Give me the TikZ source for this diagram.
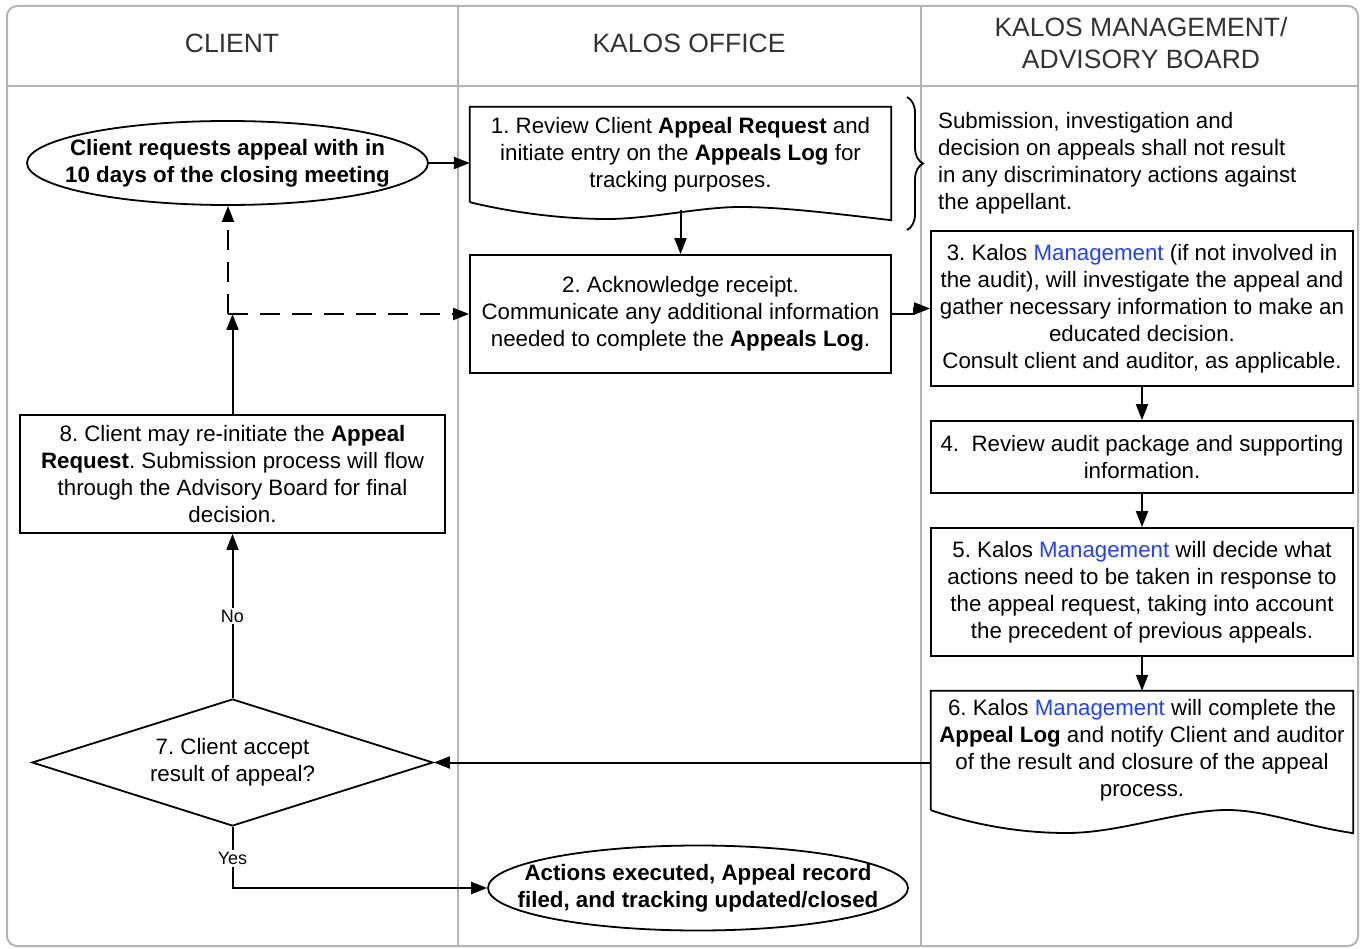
\documentclass[tikz,border=0pt]{standalone}
\usepackage{fontspec}
\setmainfont{Liberation Sans}
\usepackage{tikz}
\usetikzlibrary{arrows.meta,shapes.geometric,decorations.pathreplacing}
\definecolor{mgmt}{RGB}{32,64,255}
\definecolor{lane}{RGB}{180,180,180}
\definecolor{head}{RGB}{51,51,51}
\frenchspacing

\begin{document}
\begin{tikzpicture}[x=1pt,y=-1pt,
        every node/.style={font=\fontsize{22.3}{27}\selectfont,inner sep=0pt,align=center},
        box/.style={draw,line width=1.8pt,rectangle},
        doc/.style={rectangle},
        term/.style={draw,line width=1.8pt,ellipse,inner xsep=-60pt,font=\bfseries\fontsize{22.3}{27}\selectfont},
        choice/.style={draw,line width=1.8pt,diamond,aspect=3.2},
        head/.style={text=head,font=\fontsize{26.5}{32}\selectfont},
        lbl/.style={fill=white,inner sep=2pt,font=\fontsize{18}{21}\selectfont},
        arr/.style={-{Triangle[length=16pt,width=12pt]},line width=2pt},
        dashedarr/.style={arr,dash pattern=on 20pt off 12pt}]

        \useasboundingbox (0,0) rectangle (1362,949);
        \draw[lane,line width=2pt,rounded corners=10pt] (7,6) rectangle (1358,946);
        \draw[lane,line width=2pt] (7,86) -- (1358,86);
        \draw[lane,line width=2pt] (458,6) -- (458,946);
        \draw[lane,line width=2pt] (921,6) -- (921,946);

        \node[head] (h_1) at (232,43) {CLIENT};
        \node[head] (h_2) at (689,43) {KALOS OFFICE};
        \node[head] (h_3) at (1141,43) {KALOS MANAGEMENT/\\ADVISORY BOARD};

        \node[term,minimum width=401pt,minimum height=84pt] (n_in) at (227.5,163)
            {Client requests appeal with in\\10 days of the closing meeting};
        \node[doc,minimum width=421pt,minimum height=95pt] (n_1) at (680.5,154.5)
            {1. Review Client \textbf{Appeal Request} and\\initiate entry on the \textbf{Appeals Log} for\\tracking purposes.};
        \node[box,minimum width=421pt,minimum height=118pt] (n_2) at (680.5,314)
            {2. Acknowledge receipt.\\Communicate any additional information\\needed to complete the \textbf{Appeals Log}.};
        \node[align=left,anchor=west] (n_note) at (938,163)
            {Submission, investigation and\\decision on appeals shall not result\\in any discriminatory actions against\\the appellant.};
        \node[box,minimum width=422pt,minimum height=155pt] (n_3) at (1142,308.5)
            {3. Kalos \textcolor{mgmt}{Management} (if not involved in\\the audit), will investigate the appeal and\\gather necessary information to make an\\educated decision.\\Consult client and auditor, as applicable.};
        \node[box,minimum width=422pt,minimum height=72pt] (n_4) at (1142,457)
            {4.~ Review audit package and supporting\\information.};
        \node[box,minimum width=422pt,minimum height=128pt] (n_5) at (1142,592)
            {5. Kalos \textcolor{mgmt}{Management} will decide what\\actions need to be taken in response to\\the appeal request, taking into account\\the precedent of previous appeals.};
        \node[doc,minimum width=422pt,minimum height=119pt] (n_6) at (1142,750.5)
            {6. Kalos \textcolor{mgmt}{Management} will complete the\\\textbf{Appeal Log} and notify Client and auditor\\of the result and closure of the appeal\\process.};
        \node[choice,minimum width=401pt,minimum height=127pt] (n_7) at (232.5,762.5)
            {7. Client accept\\result of appeal?};
        \node[box,minimum width=425pt,minimum height=118pt] (n_8) at (232.5,474)
            {8. Client may re-initiate the \textbf{Appeal}\\\textbf{Request}. Submission process will flow\\through the Advisory Board for final\\decision.};
        \node[term,minimum width=420pt,minimum height=85pt] (n_out) at (698,888)
            {Actions executed, Appeal record\\filed, and tracking updated/closed};

        \draw[line width=1.8pt] (n_1.south west) -- (n_1.north west) -- (n_1.north east)
            -- ([yshift=-18pt]n_1.south east) .. controls (830,213) and (780,207) .. (740,207)
            .. controls (700,207) and (650,219) .. (607,219)
            .. controls (560,219) and (510,212) .. (n_1.south west);
        \draw[line width=1.8pt] (n_6.south west) -- (n_6.north west) -- (n_6.north east)
            -- ([yshift=-23pt]n_6.south east) .. controls (1300,825) and (1265,810) .. (1227,810)
            .. controls (1180,810) and (1120,833) .. (1067,833)
            .. controls (1020,833) and (975,825) .. (n_6.south west);
        \draw[line width=1.8pt,decorate,decoration={brace,amplitude=16pt}] (907,97) -- (907,230);

        \coordinate (jn) at (228,314);

        \draw[arr] (n_in.east) -- (n_in.east -| n_1.west);
        \draw[arr] ([yshift=-8pt]n_1.south) -- (n_2.north);
        \draw[arr] (n_2.east) -- ++(22,0) |- (n_3.west);
        \draw[arr] (n_3.south) -- (n_4.north);
        \draw[arr] (n_4.south) -- (n_5.north);
        \draw[arr] (n_5.south) -- (n_6.north);
        \draw[arr] (n_7.east -| n_6.west) -- (n_7.east);
        \draw[arr] (n_7.south) |- node[lbl,pos=0.26] {Yes} (n_out.west);
        \draw[arr] (n_7.north) -- node[lbl] {No} (n_8.south);
        \draw[arr] (n_8.north) -- (n_8.north |- jn);
        \draw[dashedarr] (jn) -- (jn |- n_in.south);
        \draw[dashedarr] (jn) -- (jn -| n_2.west);
    \end{tikzpicture}
\end{document}
